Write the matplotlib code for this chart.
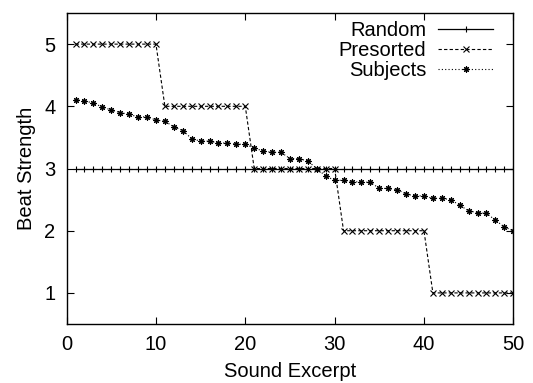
import numpy as np
import matplotlib.pyplot as plt

plt.rcParams['font.family'] = ['Liberation Sans', 'DejaVu Sans']

excerpt = list(range(1, 51))
random_strength = [3.0] * 50
presorted = [5] * 10 + [4] * 10 + [3] * 10 + [2] * 10 + [1] * 10
subjects = [4.10, 4.09, 4.05, 3.99, 3.94, 3.90, 3.87, 3.83, 3.83, 3.78,
            3.76, 3.67, 3.61, 3.48, 3.44, 3.44, 3.41, 3.41, 3.39, 3.39,
            3.33, 3.28, 3.26, 3.26, 3.16, 3.16, 3.12, 3.00, 2.88, 2.81,
            2.81, 2.79, 2.78, 2.78, 2.68, 2.68, 2.66, 2.59, 2.56, 2.56,
            2.52, 2.52, 2.50, 2.41, 2.32, 2.29, 2.28, 2.17, 2.06, 2.00]

fig = plt.figure(figsize=(5.33, 3.83), dpi=100)
ax = fig.add_axes([0.125, 0.154, 0.838, 0.812])

ax.plot(excerpt, random_strength, color='black', linewidth=0.9, linestyle='-',
        marker='+', markersize=5, markeredgewidth=0.8, label='Random')
ax.plot(excerpt, presorted, color='black', linewidth=0.8, linestyle=(0, (3, 2)),
        marker='x', markersize=4, markeredgewidth=0.8, label='Presorted')
ax.plot(excerpt, subjects, color='black', linewidth=0.8, linestyle=(0, (1, 2)),
        marker=(8, 2, 0), markersize=4.5, markeredgewidth=0.8, label='Subjects')

ax.set_xlim(0, 50)
ax.set_ylim(0.5, 5.5)
ax.set_xticks([0, 10, 20, 30, 40, 50])
ax.set_yticks([1, 2, 3, 4, 5])
ax.tick_params(direction='in', top=True, right=True, labelsize=14.5, length=5, pad=8)
for s in ax.spines.values():
    s.set_linewidth(1.0)

ax.set_xlabel('Sound Excerpt', fontsize=14.5, labelpad=6)
ax.set_ylabel('Beat Strength', fontsize=14.5, labelpad=6)

ax.legend(loc='upper right', bbox_to_anchor=(0.99, 1.025), frameon=False,
          markerfirst=False, numpoints=1, fontsize=14.5, handlelength=2.7,
          labelspacing=0.05, handletextpad=0.6, borderpad=0.3)

fig.savefig('out.png', dpi=100)
